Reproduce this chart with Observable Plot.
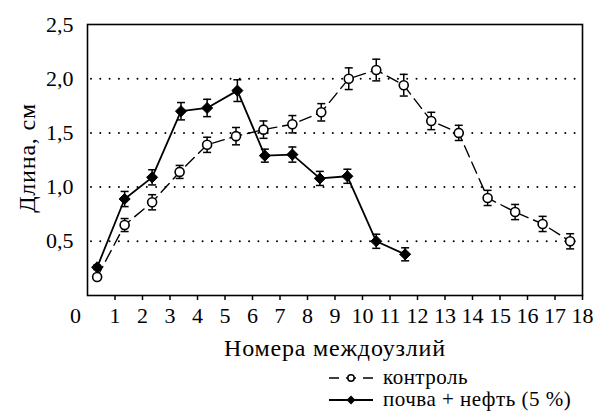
<!DOCTYPE html>
<html>
<head>
<meta charset="utf-8">
<script src="https://cdn.jsdelivr.net/npm/d3@7"></script>
<script src="https://cdn.jsdelivr.net/npm/@observablehq/plot@0.6"></script>
<style>
  html, body { margin: 0; padding: 0; background: #fff; }
  #chart { width: 603px; height: 365px; }
  #chart svg text { font-family: 'Liberation Serif', serif; }
  #chart svg g[aria-label="text"] text { letter-spacing: 0.8px; }
  .legend { font-family: 'Liberation Serif', serif; font-size: 21px; line-height: 21px; letter-spacing: 0.5px; color: #000; position: relative; height: 48px; }
  .row { position: absolute; left: 328px; display: flex; align-items: center; height: 21px; }
  .row svg { margin-right: 9px; }
</style>
</head>
<body>
<div id="chart"></div>
<script>
// Data
const xTicks = [1,2,3,4,5,6,7,8,9,10,11,12,13,14,15,16,17,18];
const yTicks = [0.5, 1, 1.5, 2, 2.5];
const gridValues = [0.5, 1, 1.5, 2];

const controlLabel = "контроль";
const controlX = [0.35,1.35,2.35,3.35,4.35,5.4,6.4,7.45,8.5,9.5,10.5,11.5,12.5,13.5,14.55,15.55,16.55,17.55];
const controlY = [0.17,0.65,0.86,1.14,1.39,1.47,1.53,1.58,1.69,2.0,2.08,1.94,1.61,1.5,0.9,0.77,0.66,0.5];
const controlErr = [0.02,0.06,0.07,0.06,0.07,0.08,0.08,0.08,0.08,0.1,0.1,0.1,0.08,0.07,0.07,0.07,0.07,0.07];

const oilLabel = "почва + нефть (5 %)";
const oilX = [0.35,1.35,2.35,3.4,4.35,5.45,6.45,7.45,8.45,9.45,10.5,11.55];
const oilY = [0.26,0.89,1.09,1.7,1.73,1.89,1.29,1.3,1.08,1.1,0.5,0.38];
const oilErr = [0.02,0.07,0.07,0.08,0.08,0.1,0.06,0.07,0.065,0.065,0.065,0.06];

const xLabel = "Номера междоузлий";
const yLabel = "Длина, см";

const control = controlX.map((x, i) => ({x, y: controlY[i], lo: controlY[i] - controlErr[i], hi: controlY[i] + controlErr[i]}));
const oil = oilX.map((x, i) => ({x, y: oilY[i], lo: oilY[i] - oilErr[i], hi: oilY[i] + oilErr[i]}));

const cap = {draw(ctx) { ctx.moveTo(-4, 0); ctx.lineTo(4, 0); }};
const FONT = "Liberation Serif";

function errorMarks(data) {
  return [
    Plot.ruleX(data, {x: "x", y1: "lo", y2: "hi", stroke: "black", strokeWidth: 1.5}),
    Plot.dot(data, {x: "x", y: "lo", symbol: cap, stroke: "black", strokeWidth: 1.5, r: 4}),
    Plot.dot(data, {x: "x", y: "hi", symbol: cap, stroke: "black", strokeWidth: 1.5, r: 4})
  ];
}

const chart = Plot.plot({
  width: 603,
  height: 365,
  marginLeft: 87,
  marginRight: 21,
  marginTop: 24,
  marginBottom: 70,
  style: "font-family: 'Liberation Serif', serif; font-size: 22px; color: black; background: white;",
  x: {domain: [0, 18]},
  y: {domain: [0, 2.5]},
  marks: [
    Plot.ruleY(gridValues, {stroke: "black", strokeWidth: 2, strokeDasharray: "0,9.3", strokeLinecap: "round", insetLeft: 4, insetRight: 4}),
    Plot.frame({stroke: "black", strokeWidth: 1.6}),
    Plot.axisX({ticks: xTicks, tickSize: 5, tickPadding: 7, tickFormat: d => String(d), strokeWidth: 1.5, label: null, fontFamily: FONT, fontSize: 22, fill: "black"}),
    Plot.axisX({ticks: [0], tickSize: 0, tickPadding: 12, dx: -12, tickFormat: d => String(d), label: null, fontFamily: FONT, fontSize: 22, fill: "black"}),
    Plot.axisY({ticks: yTicks, tickSize: 0, tickPadding: 14, tickFormat: d => d.toFixed(1).replace(".", ","), label: null, fontFamily: FONT, fontSize: 22, fill: "black"}),
    Plot.text([xLabel], {frameAnchor: "bottom", textAnchor: "middle", lineAnchor: "middle", dy: 53, fontSize: 24, fontFamily: FONT, fill: "black"}),
    Plot.text([yLabel], {frameAnchor: "left", textAnchor: "middle", lineAnchor: "middle", dx: -60, dy: -2, rotate: -90, fontSize: 24, fontFamily: FONT, fill: "black"}),
    Plot.line(control, {x: "x", y: "y", stroke: "black", strokeWidth: 1.4, strokeDasharray: "12,6"}),
    Plot.line(oil, {x: "x", y: "y", stroke: "black", strokeWidth: 1.8}),
    ...errorMarks(control),
    ...errorMarks(oil),
    Plot.dot(control, {x: "x", y: "y", r: 4.5, fill: "white", stroke: "black", strokeWidth: 1.6}),
    Plot.dot(oil, {x: "x", y: "y", symbol: "diamond2", r: 5, fill: "black", stroke: "black", strokeWidth: 1})
  ]
});
document.getElementById("chart").appendChild(chart);

// Legend below the chart
const legend = document.createElement("div");
legend.className = "legend";
legend.innerHTML = `
  <div class="row" style="top:2px">
    <svg width="46" height="14"><line x1="1" y1="7" x2="45" y2="7" stroke="black" stroke-width="1.5" stroke-dasharray="10,7"/><circle cx="23" cy="7" r="3.2" fill="white" stroke="black" stroke-width="1.5"/></svg>
    <span>${controlLabel}</span>
  </div>
  <div class="row" style="top:24px">
    <svg width="46" height="14"><line x1="1" y1="7" x2="45" y2="7" stroke="black" stroke-width="1.8"/><path d="M23,2.5L27.5,7L23,11.5L18.5,7Z" fill="black"/></svg>
    <span>${oilLabel}</span>
  </div>`;
document.body.appendChild(legend);
</script>
</body>
</html>
